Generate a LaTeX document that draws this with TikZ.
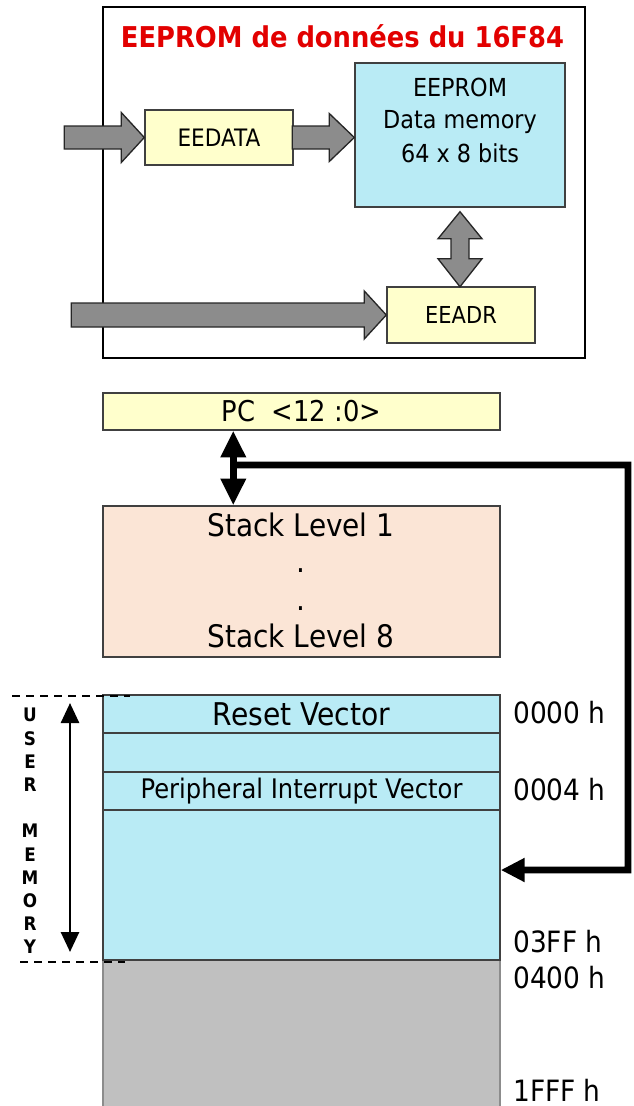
\documentclass[tikz,border=0pt]{standalone}
\usepackage{fontspec}
\setmainfont{DejaVu Sans}[FakeStretch=0.9]
\usetikzlibrary{calc,arrows.meta}

\definecolor{memblue}{HTML}{B9EBF5}
\definecolor{regyellow}{HTML}{FFFFCC}
\definecolor{stackpeach}{HTML}{FBE5D6}
\definecolor{romgray}{HTML}{C0C0C0}
\definecolor{busgray}{HTML}{8C8C8C}
\definecolor{titlered}{HTML}{E20000}

\begin{document}
\begin{tikzpicture}[x=0.75pt,y=-0.75pt,
    box/.style={draw=black!75,line width=1.1pt,inner sep=0pt},
    fat/.style={draw=black!85,fill=busgray,line width=1pt,line join=miter},
    bus/.style={line width=5pt,line join=miter}]
    \useasboundingbox (0,0) rectangle (633,1106);

    % EEPROM de donnees
    \draw[line width=1.2pt] (103,7) rectangle (585,358);
    \node[anchor=base,text=titlered,font=\bfseries\fontsize{21.5}{26}\selectfont] (title) at (342.5,48) {EEPROM de données du 16F84};
    \node[box,fill=memblue,minimum width=210*0.75pt,minimum height=144*0.75pt] (eeprom) at (460,135) {};
    \node[anchor=base,font=\fontsize{18.6}{22}\selectfont] (eeprom1) at (460,96.5) {EEPROM};
    \node[anchor=base,font=\fontsize{18.6}{22}\selectfont] (eeprom2) at (460,128) {Data memory};
    \node[anchor=base,font=\fontsize{18.6}{22}\selectfont] (eeprom3) at (460,162) {64 x 8 bits};
    \node[box,fill=regyellow,minimum width=148*0.75pt,minimum height=55*0.75pt,font=\fontsize{18}{22}\selectfont] (eedata) at (219,137.5) {EEDATA};
    \node[box,fill=regyellow,minimum width=148*0.75pt,minimum height=56*0.75pt,font=\fontsize{17.5}{21}\selectfont] (eeadr) at (461,315) {EEADR};

    \draw[fat] (eedata.west) -- ++(-23,-25) -- ++(0,13.5) -- ++(-57,0) -- ++(0,23) -- ++(57,0) -- ++(0,13.5) -- cycle;
    \draw[fat] (eeprom.west |- eedata.east) -- ++(-25,-24) -- ++(0,12.5) -- ++(-37,0) -- ++(0,23) -- ++(37,0) -- ++(0,12.5) -- cycle;
    \draw[fat] (eeadr.west) -- ++(-22,-24) -- ++(0,12) -- ++(-293,0) -- ++(0,24) -- ++(293,0) -- ++(0,12) -- cycle;
    \draw[fat] ($(eeprom.south)+(0,4)$) -- ++(22,27) -- ++(-13,0) -- ++(0,20) -- ++(13,0) -- ++(-22,28) -- ++(-22,-28) -- ++(13,0) -- ++(0,-20) -- ++(-13,0) -- cycle;

    % PC et pile
    \node[box,fill=regyellow,minimum width=397*0.75pt,minimum height=37*0.75pt,font=\fontsize{21.5}{25}\selectfont] (pc) at (301.5,411.5) {PC~ <12 :0>};
    \node[box,fill=stackpeach,minimum width=397*0.75pt,minimum height=151*0.75pt] (stack) at (301.5,581.5) {};
    \node[anchor=base,font=\fontsize{23.3}{27}\selectfont] (level1) at (301,536) {Stack Level 1};
    \node[anchor=base,font=\fontsize{23.3}{27}\selectfont] (dot1) at (301,572) {.};
    \node[anchor=base,font=\fontsize{23.3}{27}\selectfont] (dot2) at (301,610) {.};
    \node[anchor=base,font=\fontsize{23.3}{27}\selectfont] (level8) at (301,647) {Stack Level 8};

    % memoire programme
    \node[box,draw=black!45,fill=romgray,minimum width=397*0.75pt,minimum height=150*0.75pt] (rom) at (301.5,1035) {};
    \node[box,fill=memblue,minimum width=397*0.75pt,minimum height=150*0.75pt] (userarea) at (301.5,885) {};
    \node[box,fill=memblue,minimum width=397*0.75pt,minimum height=38*0.75pt,font=\fontsize{23.5}{27}\selectfont] (reset) at (301.5,714) {Reset Vector};
    \node[box,fill=memblue,minimum width=397*0.75pt,minimum height=39*0.75pt] (blank) at (301.5,752.5) {};
    \node[box,fill=memblue,minimum width=397*0.75pt,minimum height=38*0.75pt,font=\fontsize{20.2}{24}\selectfont] (periph) at (301.5,791) {Peripheral Interrupt Vector};

    \node[anchor=base west,inner sep=0pt,font=\fontsize{22}{26}\selectfont] (a0000) at (513,723) {0000 h};
    \node[anchor=base west,inner sep=0pt,font=\fontsize{22}{26}\selectfont] (a0004) at (513,800) {0004 h};
    \node[anchor=base west,inner sep=0pt,font=\fontsize{22}{26}\selectfont] (a03FF) at (513,952) {03FF h};
    \node[anchor=base west,inner sep=0pt,font=\fontsize{22}{26}\selectfont] (a0400) at (513,988) {0400 h};
    \node[anchor=base west,inner sep=0pt,font=\fontsize{22}{26}\selectfont] (a1FFF) at (513,1101) {1FFF h};

    % bus PC <-> pile <-> memoire
    \coordinate (pcjoin) at ($(pc.south west)+(131,0)$);
    \coordinate (stackjoin) at (pcjoin |- stack.north);
    \coordinate (busjoin) at ($(pcjoin)!0.46!(stackjoin)$);
    \coordinate (busturn) at (628,465);
    \coordinate (memtip) at ($(userarea.east)+(0,-15)$);
    \draw[bus,{Triangle[length=20pt,width=18pt]}-{Triangle[length=20pt,width=18pt]}] (pcjoin) -- (stackjoin);
    \draw[bus,-{Triangle[length=18pt,width=17pt]}] (busjoin) -- (busturn) |- (memtip);

    % USER MEMORY
    \draw[line width=1.1pt,dash pattern=on 6pt off 4.5pt] (12,696) -- (130,696);
    \draw[line width=1.1pt,dash pattern=on 6pt off 4.5pt] (20,962) -- (125,962);
    \coordinate (umtop) at (70,703);
    \coordinate (umbot) at (70,952);
    \draw[line width=2pt,{Triangle[length=15pt,width=13.5pt]}-{Triangle[length=15pt,width=13.5pt]}] (umtop) -- (umbot);
    \node[anchor=north,inner sep=0pt,align=center,font=\bfseries\fontsize{14}{17.4}\selectfont] (usermem) at (30,708) {U\\S\\E\\R\\[17.4pt]M\\E\\M\\O\\R\\Y};
\end{tikzpicture}
\end{document}
